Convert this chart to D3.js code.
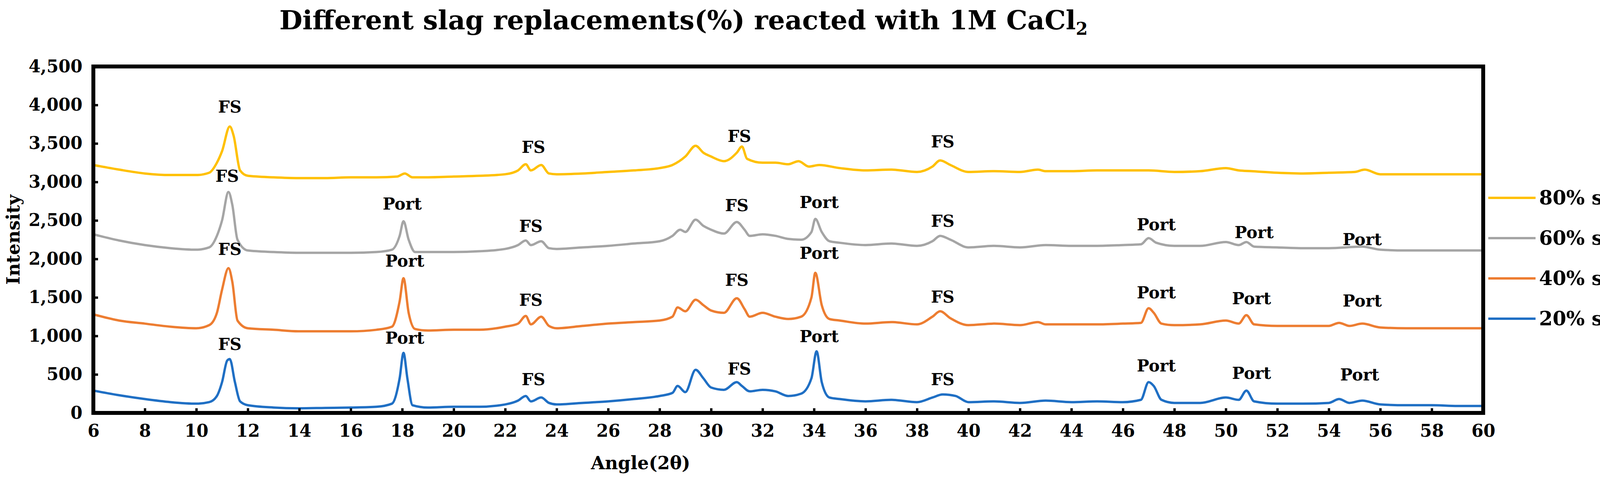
<!DOCTYPE html>
<html>
<head>
<meta charset="utf-8">
<script src="https://cdn.jsdelivr.net/npm/d3@7"></script>
<style>
  html, body { margin: 0; padding: 0; background: #fff; }
  svg { display: block; font-family: "DejaVu Serif", serif; font-weight: bold; }
</style>
</head>
<body>
<svg id="chart" width="4195" height="1225"></svg>
<script>
// XRD patterns, [angle, intensity]
const slag20 = [[6,290],[7,230],[8,180],[9,140],[10,120],[10.5,140],[10.8,220],[11.0,400],[11.2,680],[11.3,700],[11.5,400],[11.7,150],[12,100],[13,70],[14,60],[15,65],[16,70],[17,80],[17.6,120],[17.9,450],[18.05,780],[18.2,450],[18.4,100],[19,70],[20,80],[21,80],[22,110],[22.5,160],[22.8,220],[23.0,150],[23.4,200],[23.7,130],[24,110],[25,130],[26,150],[27,180],[28,220],[28.5,260],[28.7,350],[29.0,270],[29.4,560],[29.7,450],[30,330],[30.5,300],[31.0,400],[31.2,350],[31.5,280],[32,300],[32.5,280],[33,220],[33.5,250],[33.9,450],[34.1,800],[34.3,400],[34.6,200],[35,180],[36,150],[37,170],[38,140],[38.6,200],[39.0,240],[39.5,220],[40,140],[41,150],[42,130],[43,160],[44,140],[45,150],[46,140],[46.7,170],[47.0,400],[47.2,350],[47.5,170],[48,130],[49,130],[50,200],[50.5,170],[50.8,290],[51.1,150],[52,120],[53,120],[54,130],[54.4,180],[54.8,130],[55.3,160],[56,110],[57,100],[58,100],[59,90],[60,90]];
const slag40 = [[6,1280],[7,1200],[8,1160],[9,1120],[10,1100],[10.5,1140],[10.8,1300],[11.0,1600],[11.25,1880],[11.4,1700],[11.6,1200],[12,1100],[13,1080],[14,1060],[15,1060],[16,1060],[17,1080],[17.6,1120],[17.9,1450],[18.05,1750],[18.25,1300],[18.5,1090],[19,1070],[20,1080],[21,1080],[22,1120],[22.5,1160],[22.8,1260],[23.0,1150],[23.4,1250],[23.7,1130],[24,1100],[25,1130],[26,1160],[27,1180],[28,1200],[28.5,1250],[28.7,1370],[29.0,1320],[29.4,1470],[29.7,1400],[30,1330],[30.5,1300],[31.0,1490],[31.3,1350],[31.5,1250],[32,1300],[32.5,1250],[33,1220],[33.5,1250],[33.9,1500],[34.05,1820],[34.3,1400],[34.6,1220],[35,1200],[36,1160],[37,1180],[38,1150],[38.6,1250],[38.9,1320],[39.3,1230],[40,1140],[41,1160],[42,1140],[42.7,1180],[43,1150],[44,1150],[45,1150],[46,1160],[46.7,1170],[47.0,1360],[47.2,1300],[47.5,1160],[48,1140],[49,1150],[50,1200],[50.5,1160],[50.8,1270],[51.1,1150],[52,1130],[53,1130],[54,1130],[54.4,1170],[54.8,1130],[55.3,1160],[56,1110],[57,1100],[58,1100],[59,1100],[60,1100]];
const slag60 = [[6,2320],[7,2240],[8,2180],[9,2140],[10,2120],[10.5,2150],[10.8,2300],[11.0,2500],[11.25,2870],[11.4,2700],[11.6,2250],[12,2110],[13,2090],[14,2080],[15,2080],[16,2080],[17,2090],[17.6,2120],[17.9,2300],[18.05,2490],[18.25,2250],[18.5,2090],[19,2090],[20,2090],[21,2100],[22,2130],[22.5,2180],[22.8,2240],[23.0,2180],[23.4,2230],[23.7,2140],[24,2130],[25,2150],[26,2170],[27,2200],[28,2230],[28.5,2300],[28.8,2380],[29.0,2350],[29.4,2510],[29.7,2430],[30,2380],[30.5,2330],[31.0,2480],[31.3,2380],[31.5,2300],[32,2320],[32.5,2300],[33,2260],[33.5,2250],[33.9,2350],[34.05,2520],[34.3,2350],[34.6,2230],[35,2210],[36,2180],[37,2200],[38,2170],[38.6,2230],[38.9,2300],[39.3,2250],[40,2150],[41,2170],[42,2150],[43,2180],[44,2170],[45,2170],[46,2180],[46.7,2190],[47.0,2270],[47.3,2210],[48,2170],[49,2170],[50,2220],[50.5,2180],[50.8,2220],[51.1,2160],[52,2150],[53,2140],[54,2140],[55.3,2160],[56,2120],[57,2110],[58,2110],[59,2110],[60,2110]];
const slag80 = [[6,3220],[7,3160],[8,3110],[9,3090],[10,3090],[10.5,3120],[10.8,3250],[11.0,3400],[11.3,3720],[11.45,3600],[11.7,3150],[12,3080],[13,3060],[14,3050],[15,3050],[16,3060],[17,3060],[17.8,3070],[18.1,3110],[18.4,3060],[19,3060],[20,3070],[21,3080],[22,3100],[22.5,3150],[22.8,3230],[23.0,3150],[23.4,3220],[23.7,3110],[24,3100],[25,3110],[26,3130],[27,3150],[28,3180],[28.5,3220],[29.0,3330],[29.4,3470],[29.7,3380],[30,3330],[30.5,3270],[31.0,3380],[31.2,3460],[31.4,3300],[32,3250],[32.5,3250],[33,3230],[33.4,3270],[33.8,3200],[34.2,3220],[35,3180],[36,3150],[37,3160],[38,3130],[38.6,3200],[38.9,3280],[39.3,3220],[40,3130],[41,3140],[42,3130],[42.7,3160],[43,3140],[44,3140],[45,3150],[46,3150],[47,3150],[48,3130],[49,3140],[50,3180],[50.5,3150],[51,3140],[52,3120],[53,3110],[54,3120],[55,3130],[55.4,3160],[56,3100],[57,3100],[58,3100],[59,3100],[60,3100]];

const seriesNames = ['80% slag', '60% slag', '40% slag', '20% slag'];
const seriesData = [slag80, slag60, slag40, slag20];
const seriesColors = ['#ffc000', '#a5a5a5', '#ed7d31', '#1f6fc4'];

// phase labels: [text, angle, intensity at baseline]
const peakLabels = [
  ['FS',11.3,3900],['FS',23.1,3380],['FS',31.1,3520],['FS',39.0,3450],
  ['FS',11.2,3000],['Port',18.0,2640],['FS',23.0,2350],['FS',31.0,2620],['Port',34.2,2660],['FS',39.0,2420],['Port',47.3,2370],['Port',51.1,2270],['Port',55.3,2180],
  ['FS',11.3,2050],['Port',18.1,1900],['FS',23.0,1390],['FS',31.0,1650],['Port',34.2,2000],['FS',39.0,1430],['Port',47.3,1490],['Port',51.0,1410],['Port',55.3,1380],
  ['FS',11.3,820],['Port',18.1,900],['FS',23.1,360],['FS',31.1,500],['Port',34.2,920],['FS',39.0,360],['Port',47.3,540],['Port',51.0,440],['Port',55.2,420]
];

const xTicks = d3.range(6, 61, 2);
const yTicks = d3.range(0, 4501, 500);

const svg = d3.select('#chart');
const plotLeft = 239, plotRight = 3797, plotTop = 170, plotBottom = 1056;

const x = d3.scaleLinear().domain([6, 60]).range([plotLeft, plotRight]);
const y = d3.scaleLinear().domain([0, 4500]).range([plotBottom, plotTop]);

svg.append('text')
  .attr('x', 1750).attr('y', 75)
  .attr('text-anchor', 'middle')
  .attr('font-size', 68)
  .text('Different slag replacements(%) reacted with 1M CaCl')
  .append('tspan').attr('font-size', 44).attr('dy', 14).text('2');

// lines
const line = d3.line().x(d => x(d[0])).y(d => y(d[1])).curve(d3.curveMonotoneX);
svg.append('g').selectAll('path')
  .data(seriesData)
  .join('path')
  .attr('d', line)
  .attr('fill', 'none')
  .attr('stroke', (d, i) => seriesColors[i])
  .attr('stroke-width', 6)
  .attr('stroke-linejoin', 'round');

// axes
svg.append('g')
  .attr('transform', `translate(0,${plotBottom})`)
  .call(d3.axisBottom(x).tickValues(xTicks).tickSize(-12).tickPadding(30))
  .call(g => g.select('.domain').remove())
  .call(g => g.selectAll('line').attr('stroke', '#000').attr('stroke-width', 6))
  .call(g => g.selectAll('text').attr('font-size', 44).attr('font-family', '"DejaVu Serif", serif').attr('font-weight', 'bold').attr('fill', '#000'));

svg.append('g')
  .attr('transform', `translate(${plotLeft},0)`)
  .call(d3.axisLeft(y).tickValues(yTicks).tickSize(-12).tickPadding(28))
  .call(g => g.select('.domain').remove())
  .call(g => g.selectAll('line').attr('stroke', '#000').attr('stroke-width', 6))
  .call(g => g.selectAll('text').attr('font-size', 44).attr('font-family', '"DejaVu Serif", serif').attr('font-weight', 'bold').attr('fill', '#000'));

svg.append('rect')
  .attr('x', plotLeft).attr('y', plotTop)
  .attr('width', plotRight - plotLeft).attr('height', plotBottom - plotTop)
  .attr('fill', 'none').attr('stroke', '#000').attr('stroke-width', 10);

// peak labels
svg.append('g').selectAll('text')
  .data(peakLabels)
  .join('text')
  .attr('x', d => x(d[1])).attr('y', d => y(d[2]))
  .attr('text-anchor', 'middle')
  .attr('font-size', 42)
  .text(d => d[0]);

svg.append('text')
  .attr('transform', `translate(50,${(plotTop + plotBottom) / 2}) rotate(-90)`)
  .attr('text-anchor', 'middle')
  .attr('font-size', 46)
  .text('Intensity');

svg.append('text')
  .attr('x', 1640).attr('y', 1200)
  .attr('text-anchor', 'middle')
  .attr('font-size', 46)
  .text('Angle(2θ)');

// legend
const legend = svg.append('g').selectAll('g')
  .data(seriesNames)
  .join('g')
  .attr('transform', (d, i) => `translate(3810,${506 + i * 103})`);
legend.append('line')
  .attr('x1', 0).attr('x2', 121)
  .attr('stroke', (d, i) => seriesColors[i])
  .attr('stroke-width', 6);
legend.append('text')
  .attr('x', 130).attr('y', 17)
  .attr('font-size', 50)
  .text(d => d);
</script>
</body>
</html>
